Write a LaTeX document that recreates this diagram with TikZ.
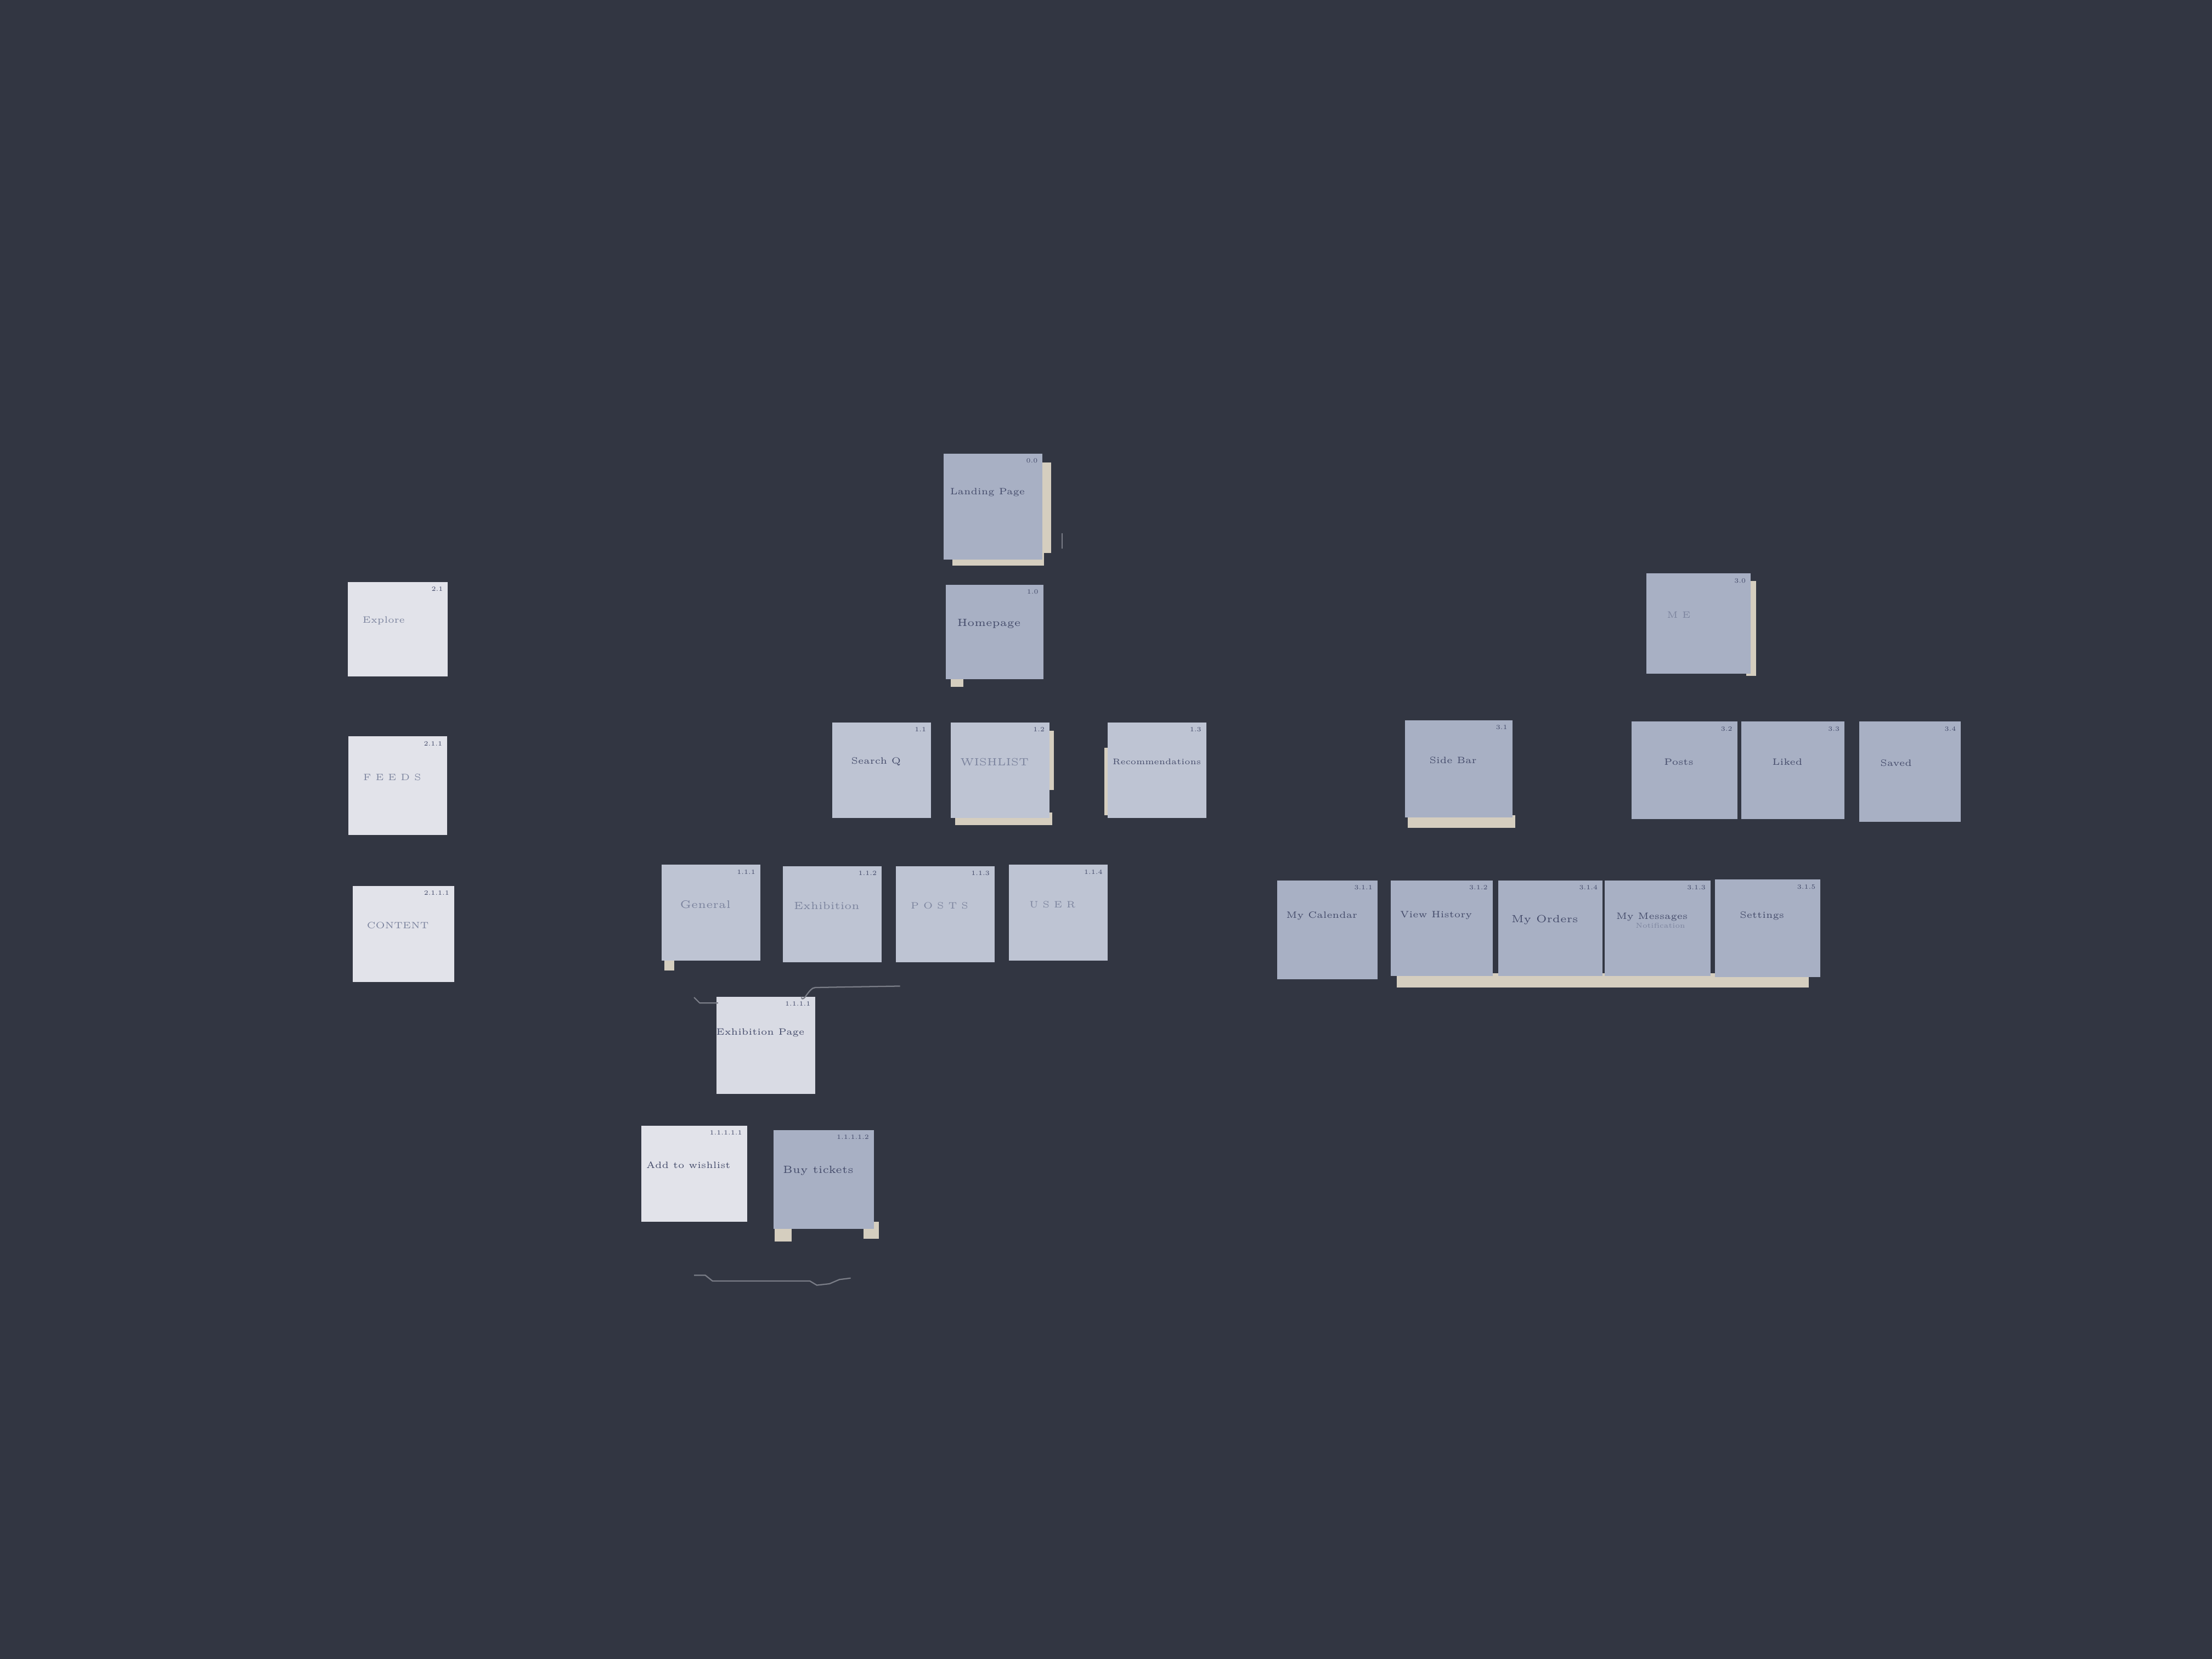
\documentclass[tikz,border=0pt]{standalone}
\usetikzlibrary{positioning}

\definecolor{board}{HTML}{323642}
\definecolor{paper}{HTML}{A8B0C4}
\definecolor{paperlt}{HTML}{BEC4D3}
\definecolor{pale}{HTML}{E2E3EA}
\definecolor{ink}{HTML}{444B6A}
\definecolor{faintink}{HTML}{7C849E}
\definecolor{tape}{HTML}{D5CEBF}
\definecolor{wire}{HTML}{7A7D87}

\tikzset{
  note/.style={fill=paper, inner sep=0pt, minimum width=1.40cm, minimum height=1.36cm},
  hand/.style={text=ink, font=\fontsize{3.7}{4.5}\selectfont, inner sep=0pt, xshift=-0.08cm, yshift=0.12cm},
  faint/.style={hand, text=faintink},
  num/.style={text=ink, font=\fontsize{2.6}{3}\selectfont, inner sep=2pt, anchor=north east},
  crease/.style={draw=wire, line width=0.5pt}
}

\begin{document}
\begin{tikzpicture}[x=0.02cm, y=-0.02cm]
    \fill[board] (0,0) rectangle (1568,1176);

    % tape and backing paper showing under the notes
    \fill[tape] (675,392) rectangle (740,401);
    \fill[tape] (737,328) rectangle (745,392);
    \fill[tape] (674,480) rectangle (683,487);
    \fill[tape] (677,576) rectangle (746,585);
    \fill[tape] (742,518) rectangle (747,560);
    \fill[tape] (783,530) rectangle (788,578);
    \fill[tape] (471,680) rectangle (478,688);
    \fill[tape] (549,868) rectangle (561,880);
    \fill[tape] (612,866) rectangle (623,878);
    \fill[tape] (998,578) rectangle (1074,587);
    \fill[tape] (1238,412) rectangle (1245,479);
    \fill[tape] (990,690) rectangle (1282,700);

    % level 0 / 1
    \node[note, minimum height=1.50cm, label={[num]north east:0.0}] (landing) at (704,359) {};
    \node[hand, yshift=0.08cm] (landingtxt) at (landing) {Landing Page};
    \node[note, minimum width=1.38cm, minimum height=1.34cm, label={[num]north east:1.0}] (home) at (705,448) {};
    \node[hand, font=\fontsize{4.2}{5}\selectfont] (hometxt) at (home) {Homepage};

    % level 1.x
    \node[note, fill=paperlt, label={[num]north east:1.1}] (search) at (625,546) {};
    \node[hand] (searchtxt) at (search) {Search Q};
    \node[note, fill=paperlt, label={[num]north east:1.2}] (wish) at (709,546) {};
    \node[faint, font=\fontsize{4.2}{5}\selectfont] (wishtxt) at (wish) {WISHLIST};
    \node[note, fill=paperlt, label={[num]north east:1.3}] (recom) at (820,546) {};
    \node[hand, xshift=0.08cm, font=\fontsize{3.3}{4}\selectfont] (recomtxt) at (recom) {Recommendations};

    % level 1.1.x
    \node[note, fill=paperlt, label={[num]north east:1.1.1}] (general) at (504,647) {};
    \node[faint, font=\fontsize{4.4}{5}\selectfont] (generaltxt) at (general) {General};
    \node[note, fill=paperlt, label={[num]north east:1.1.2}] (exhib) at (590,648) {};
    \node[faint, font=\fontsize{4.2}{5}\selectfont] (exhibtxt) at (exhib) {Exhibition};
    \node[note, fill=paperlt, label={[num]north east:1.1.3}] (posts) at (670,648) {};
    \node[faint] (poststxt) at (posts) {P O S T S};
    \node[note, fill=paperlt, label={[num]north east:1.1.4}] (user) at (750,647) {};
    \node[faint] (usertxt) at (user) {U S E R};

    % exhibition branch
    \node[note, fill=pale!85!paper, minimum height=1.38cm, label={[num]north east:1.1.1.1}] (expage) at (543,741) {};
    \node[hand, yshift=0.06cm] (expagetxt) at (expage) {Exhibition Page};
    \node[note, fill=pale, minimum width=1.50cm, label={[num]north east:1.1.1.1.1}] (addwish) at (492,832) {};
    \node[hand] (addwishtxt) at (addwish) {Add to wishlist};
    \node[note, minimum width=1.42cm, minimum height=1.40cm, label={[num]north east:1.1.1.1.2}] (buy) at (584,836) {};
    \node[hand, font=\fontsize{4.2}{5}\selectfont] (buytxt) at (buy) {Buy tickets};

    % left column
    \node[note, fill=pale, minimum width=1.42cm, minimum height=1.34cm, label={[num]north east:2.1}] (explore) at (282,446) {};
    \node[faint, xshift=-0.12cm] (exploretxt) at (explore) {Explore};
    \node[note, fill=pale, minimum height=1.40cm, label={[num]north east:2.1.1}] (feeds) at (282,557) {};
    \node[faint] (feedstxt) at (feeds) {F E E D S};
    \node[note, fill=pale, minimum width=1.44cm, label={[num]north east:2.1.1.1}] (content) at (286,662) {};
    \node[faint] (contenttxt) at (content) {CONTENT};

    % ME branch
    \node[note, minimum width=1.48cm, minimum height=1.42cm, label={[num]north east:3.0}] (me) at (1204,442) {};
    \node[faint, xshift=-0.2cm] (metxt) at (me) {M E};
    \node[note, minimum width=1.52cm, minimum height=1.38cm, label={[num]north east:3.1}] (sidebar) at (1034,545) {};
    \node[hand] (sidebartxt) at (sidebar) {Side Bar};
    \node[note, minimum width=1.50cm, minimum height=1.38cm, label={[num]north east:3.2}] (mposts) at (1194,546) {};
    \node[hand] (mpoststxt) at (mposts) {Posts};
    \node[note, minimum width=1.46cm, minimum height=1.38cm, label={[num]north east:3.3}] (liked) at (1271,546) {};
    \node[hand] (likedtxt) at (liked) {Liked};
    \node[note, minimum width=1.44cm, minimum height=1.42cm, label={[num]north east:3.4}] (saved) at (1354,547) {};
    \node[hand, xshift=-0.12cm] (savedtxt) at (saved) {Saved};

    % side bar items
    \node[note, minimum width=1.42cm, minimum height=1.40cm, label={[num]north east:3.1.1}] (calendar) at (941,659) {};
    \node[hand, yshift=0.08cm] (calendartxt) at (calendar) {My Calendar};
    \node[note, minimum width=1.44cm, label={[num]north east:3.1.2}] (history) at (1022,658) {};
    \node[hand, yshift=0.06cm] (historytxt) at (history) {View History};
    \node[note, minimum width=1.48cm, label={[num]north east:3.1.4}] (orders) at (1099,658) {};
    \node[hand, font=\fontsize{4.2}{5}\selectfont] (orderstxt) at (orders) {My Orders};
    \node[note, minimum width=1.50cm, label={[num]north east:3.1.3}] (messages) at (1175,658) {};
    \node[hand, yshift=0.04cm] (messagestxt) at (messages) {My Messages};
    \node[faint, font=\fontsize{2.8}{3.5}\selectfont, xshift=0.12cm, yshift=-0.08cm] (notiftxt) at (messages) {Notification};
    \node[note, minimum width=1.50cm, minimum height=1.38cm, label={[num]north east:3.1.5}] (settings) at (1253,658) {};
    \node[hand, yshift=0.06cm] (settingstxt) at (settings) {Settings};

    % loose threads on the board
    \draw[crease] (492,707) -- (496,711) -- (509,711);
    \draw[crease] (568,707) to[out=-70,in=180] (578,700) -- (638,699);
    \draw[crease] (492,904) -- (500,904) -- (505,908) -- (574,908) -- (579,911) -- (588,910) -- (595,907) -- (603,906);
    \draw[crease] (753,378) -- (753,389);
\end{tikzpicture}
\end{document}
